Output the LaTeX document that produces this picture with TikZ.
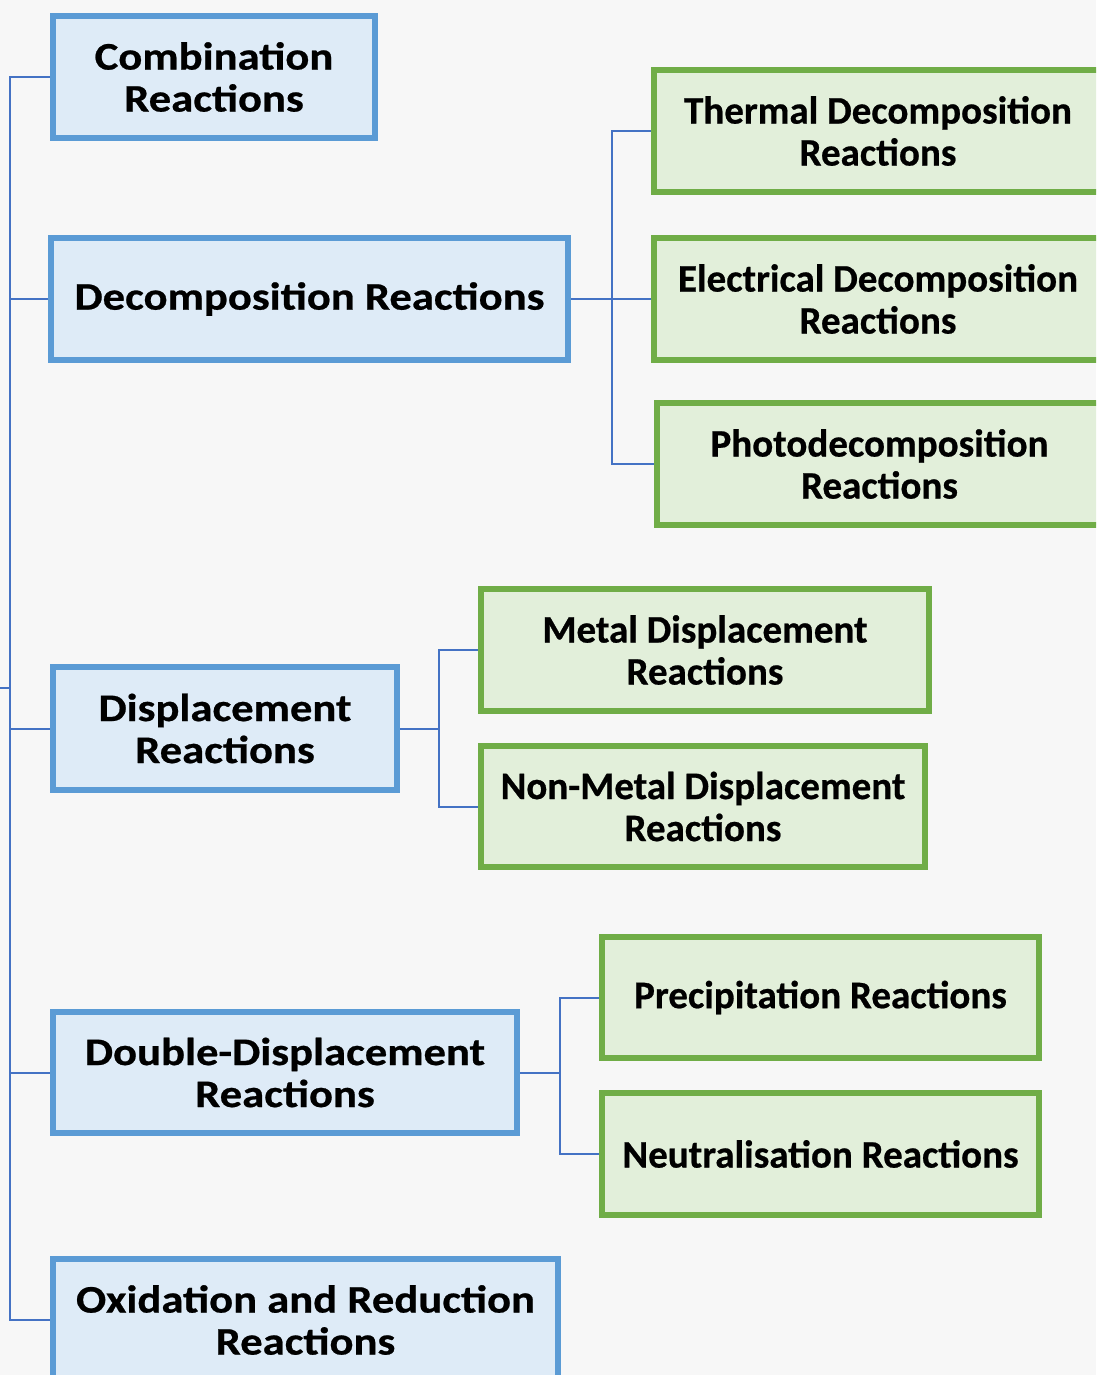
\documentclass[tikz,border=0pt]{standalone}
\usepackage{fontspec}
\setmainfont{Carlito}[BoldFeatures={FakeStretch=1.145,FakeBold=0.6}]
\newfontfamily\greenfamily{Carlito}[BoldFeatures={FakeBold=0.6}]
\definecolor{bg}{HTML}{F7F7F7}
\definecolor{bluefill}{HTML}{DEEBF7}
\definecolor{blueline}{HTML}{5B9BD5}
\definecolor{greenfill}{HTML}{E2EFDA}
\definecolor{greenline}{HTML}{70AD47}
\definecolor{conn}{HTML}{4472C4}
\begin{document}
\begin{tikzpicture}[x=1pt,y=-1pt,
  box/.style={rectangle, line width=6pt, align=center, inner sep=0pt, text=black},
  bluebox/.style={box, draw=blueline, fill=bluefill,
    font=\fontsize{39}{42}\selectfont\bfseries},
  greenbox/.style={box, draw=greenline, fill=greenfill,
    font=\greenfamily\fontsize{39}{42}\selectfont\bfseries},
  link/.style={draw=conn, line width=2pt}]
\useasboundingbox (0,0) rectangle (1096,1375);
\clip (0,0) rectangle (1096,1375);
\fill[bg] (0,0) rectangle (1096,1375);

\node[bluebox, minimum width=322pt, minimum height=122pt] (comb) at (214,77) {Combination\\Reactions};
\node[bluebox, minimum width=517pt, minimum height=122pt] (decomp) at (309.5,299) {Decomposition Reactions};
\node[bluebox, minimum width=344pt, minimum height=123pt] (disp) at (225,728.5) {Displacement\\Reactions};
\node[bluebox, minimum width=464pt, minimum height=121pt] (ddisp) at (285,1072.5) {Double-Displacement\\Reactions};
\node[bluebox, minimum width=505pt, minimum height=122pt] (redox) at (305.5,1320) {Oxidation and Reduction\\Reactions};

\node[greenbox, minimum width=448pt, minimum height=122pt] (therm) at (878,131) {Thermal Decomposition\\Reactions};
\node[greenbox, minimum width=448pt, minimum height=122pt] (elec) at (878,299) {Electrical Decomposition\\Reactions};
\node[greenbox, minimum width=445pt, minimum height=122pt] (photo) at (879.5,464) {Photodecomposition\\Reactions};
\node[greenbox, minimum width=448pt, minimum height=122pt] (metal) at (705,650) {Metal Displacement\\Reactions};
\node[greenbox, minimum width=444pt, minimum height=121pt] (nonmetal) at (703,806.5) {Non-Metal Displacement\\Reactions};
\node[greenbox, minimum width=437pt, minimum height=121pt] (precip) at (820.5,997.5) {Precipitation Reactions};
\node[greenbox, minimum width=437pt, minimum height=122pt] (neutral) at (820.5,1154) {Neutralisation Reactions};

\coordinate (root) at (0,688);
\coordinate (trunk) at (10,688);
\coordinate (dj) at (612,299);
\coordinate (sj) at (439,728.5);
\coordinate (xj) at (560,1072.5);

\draw[link] (root) -- (trunk);
\foreach \n in {comb,decomp,disp,ddisp,redox} \draw[link] (trunk) |- (\n.west);
\draw[link] (decomp.east) -- (dj);
\foreach \n in {therm,elec,photo} \draw[link] (dj) |- (\n.west);
\draw[link] (disp.east) -- (sj);
\foreach \n in {metal,nonmetal} \draw[link] (sj) |- (\n.west);
\draw[link] (ddisp.east) -- (xj);
\foreach \n in {precip,neutral} \draw[link] (xj) |- (\n.west);
\end{tikzpicture}
\end{document}
